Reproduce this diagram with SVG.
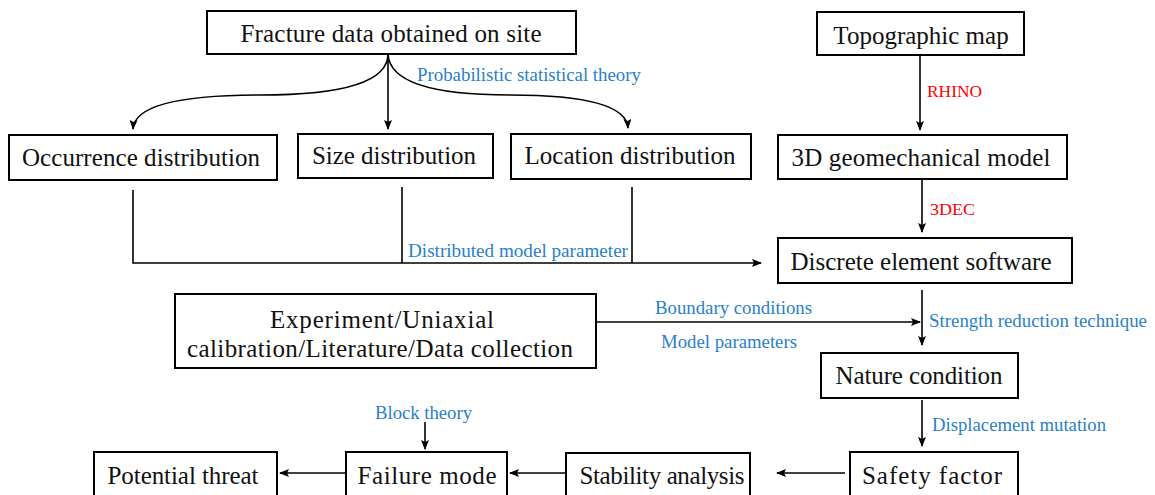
<svg xmlns="http://www.w3.org/2000/svg" width="1155" height="495" viewBox="0 0 1155 495">
<style>
.box{fill:#fff;stroke:#000;stroke-width:2}
.t{font-family:"Liberation Serif","Times New Roman",serif;font-size:25px;fill:#111;text-anchor:middle}
.b{font-family:"Liberation Serif","Times New Roman",serif;font-size:18px;fill:#2a7fc9}
.r{font-family:"Liberation Serif","Times New Roman",serif;font-size:16px;fill:#ff0000}
.c{fill:none;stroke:#000;stroke-width:1.6}
</style>
<defs>
<marker id="ah" markerWidth="10" markerHeight="8" refX="9" refY="4" orient="auto" markerUnits="userSpaceOnUse">
<path d="M0,0 L10,4 L0,8 L2,4 z" fill="#000"/>
</marker>
</defs>
<rect width="1155" height="495" fill="#fff"/>
<g id="connectors">
<path class="c" d="M388,54 Q388,95 260,95 Q135,95 133,129" marker-end="url(#ah)"/>
<path class="c" d="M388,54 L388,129" marker-end="url(#ah)"/>
<path class="c" d="M388,54 Q390,95 510,95 Q626,95 628,128" marker-end="url(#ah)"/>
<path class="c" d="M920,55 L920,130" marker-end="url(#ah)"/>
<path class="c" d="M922,180 L922,232" marker-end="url(#ah)"/>
<path class="c" d="M133,190 L133,263 L761,263" marker-end="url(#ah)"/>
<path class="c" d="M402,187 L402,263"/>
<path class="c" d="M632,187 L632,263"/>
<path class="c" d="M922,290 L922,345" marker-end="url(#ah)"/>
<path class="c" d="M597,322 L920,322" marker-end="url(#ah)"/>
<path class="c" d="M922,400 L922,446" marker-end="url(#ah)"/>
<path class="c" d="M845,473 L777,473" marker-end="url(#ah)"/>
<path class="c" d="M565,473 L510,473" marker-end="url(#ah)"/>
<path class="c" d="M345,473 L280,473" marker-end="url(#ah)"/>
<path class="c" d="M425,422 L425,449" marker-end="url(#ah)"/>
<text class="b" x="417" y="81" textLength="224" lengthAdjust="spacingAndGlyphs">Probabilistic statistical theory</text>
<text class="r" x="927" y="97" textLength="55" lengthAdjust="spacingAndGlyphs">RHINO</text>
<text class="r" x="930" y="215" textLength="45" lengthAdjust="spacingAndGlyphs">3DEC</text>
<text class="b" x="408" y="257" textLength="220" lengthAdjust="spacingAndGlyphs">Distributed model parameter</text>
<text class="b" x="655" y="314" textLength="157" lengthAdjust="spacingAndGlyphs">Boundary conditions</text>
<text class="b" x="661" y="348" textLength="136" lengthAdjust="spacingAndGlyphs">Model parameters</text>
<text class="b" x="929" y="327" textLength="218" lengthAdjust="spacingAndGlyphs">Strength reduction technique</text>
<text class="b" x="375" y="419" textLength="97" lengthAdjust="spacingAndGlyphs">Block theory</text>
<text class="b" x="932" y="431" textLength="174" lengthAdjust="spacingAndGlyphs">Displacement mutation</text>
</g>
<g id="n-fracture"><rect class="box" x="207" y="11" width="369" height="43"/><text class="t" x="391" y="42" textLength="301" lengthAdjust="spacing">Fracture data obtained on site</text></g>
<g id="n-topo"><rect class="box" x="817" y="12" width="207" height="43"/><text class="t" x="921" y="44">Topographic map</text></g>
<g id="n-occ"><rect class="box" x="9" y="135" width="268" height="45"/><text class="t" x="141" y="166" textLength="238" lengthAdjust="spacing">Occurrence distribution</text></g>
<g id="n-size"><rect class="box" x="298" y="134" width="195" height="44"/><text class="t" x="394" y="164" textLength="164" lengthAdjust="spacing">Size distribution</text></g>
<g id="n-loc"><rect class="box" x="511" y="134" width="240" height="45"/><text class="t" x="630" y="164" textLength="211" lengthAdjust="spacing">Location distribution</text></g>
<g id="n-3d"><rect class="box" x="778" y="135" width="289" height="44"/><text class="t" x="921" y="166" textLength="259" lengthAdjust="spacing">3D geomechanical model</text></g>
<g id="n-dem"><rect class="box" x="778" y="238" width="294" height="45"/><text class="t" x="921" y="270" textLength="261" lengthAdjust="spacing">Discrete element software</text></g>
<g id="n-exp"><rect class="box" x="175" y="294" width="421" height="74"/><text class="t" x="382" y="328" textLength="224" lengthAdjust="spacing">Experiment/Uniaxial</text><text class="t" x="380" y="357" textLength="386" lengthAdjust="spacing">calibration/Literature/Data collection</text></g>
<g id="n-nature"><rect class="box" x="821" y="353" width="197" height="45"/><text class="t" x="919" y="384" textLength="167" lengthAdjust="spacing">Nature condition</text></g>
<g id="n-threat"><rect class="box" x="94" y="452" width="183" height="46"/><text class="t" x="183" y="484" textLength="151" lengthAdjust="spacing">Potential threat</text></g>
<g id="n-failure"><rect class="box" x="346" y="452" width="161" height="46"/><text class="t" x="427" y="484" textLength="139" lengthAdjust="spacing">Failure mode</text></g>
<g id="n-stab"><rect class="box" x="566" y="453" width="184" height="46"/><text class="t" x="662" y="484" textLength="165" lengthAdjust="spacing">Stability analysis</text></g>
<g id="n-safety"><rect class="box" x="850" y="452" width="168" height="46"/><text class="t" x="932" y="484" textLength="140" lengthAdjust="spacing">Safety factor</text></g>
</svg>
